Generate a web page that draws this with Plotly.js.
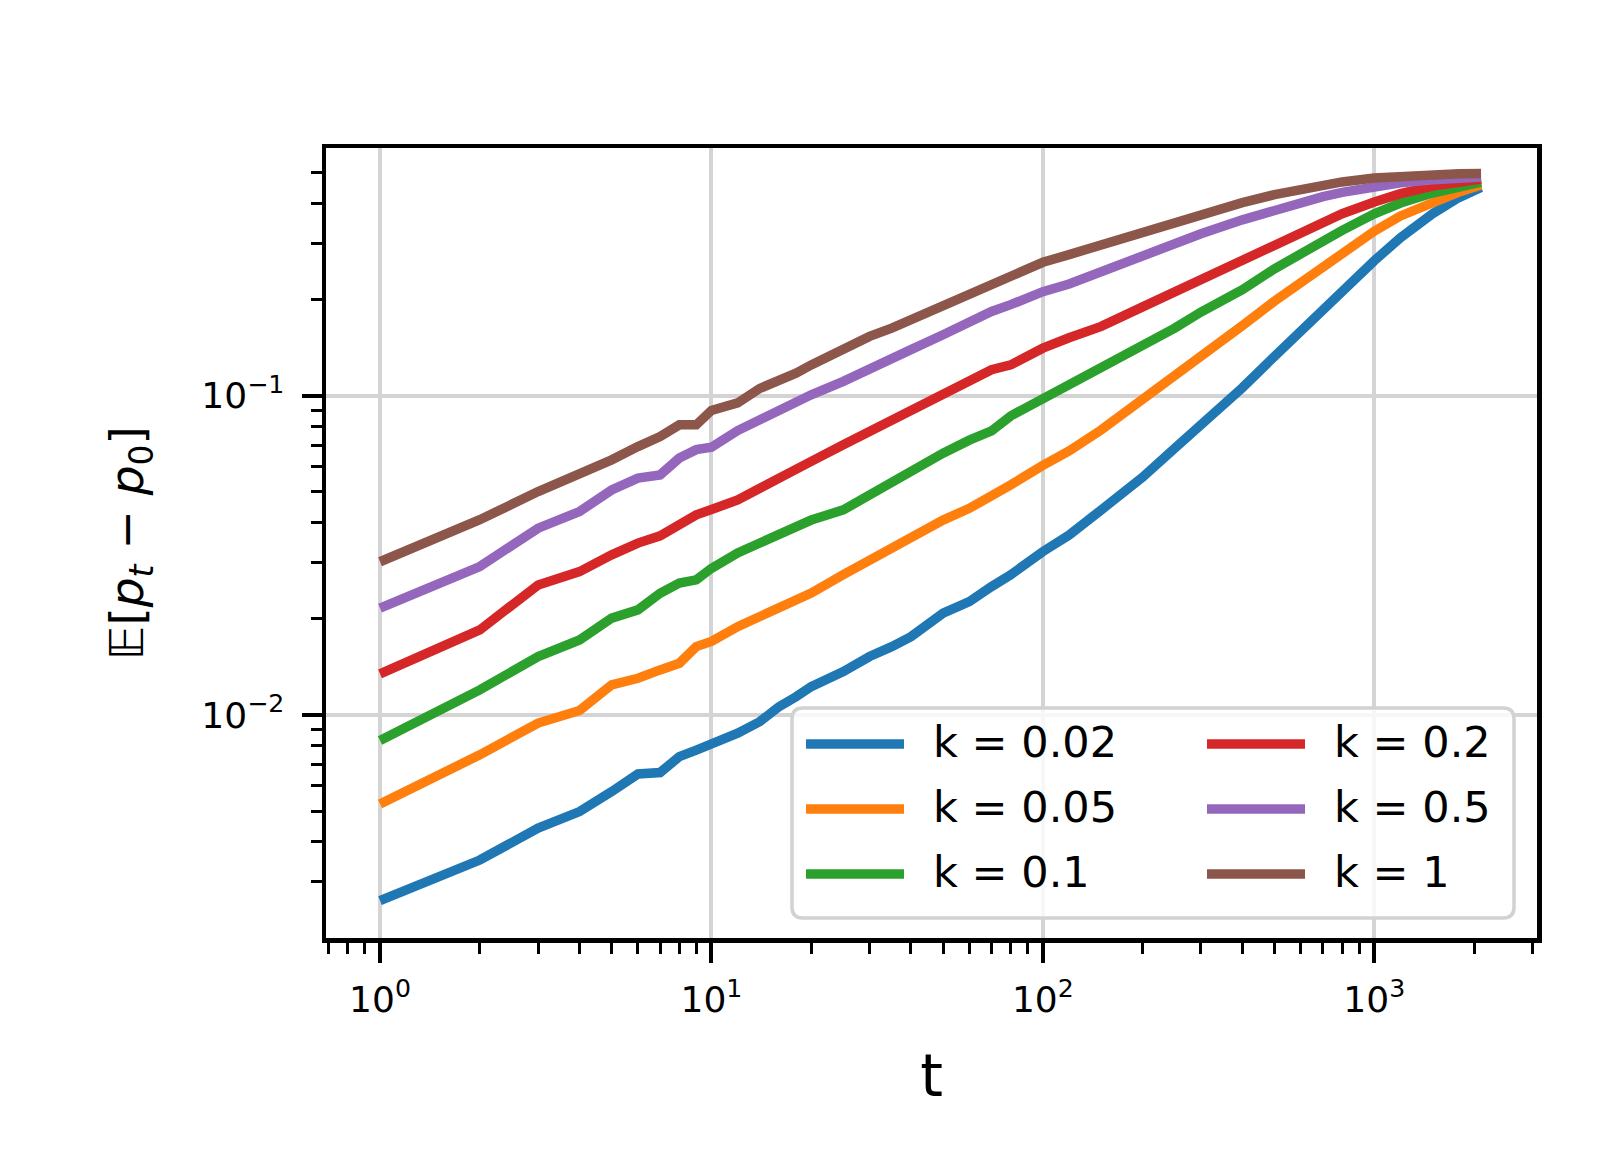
<!DOCTYPE html>
<html>
<head>
<meta charset="utf-8">
<script src="https://cdn.plot.ly/plotly-3.0.1.min.js"></script>
<style>html,body{margin:0;padding:0;background:#fff;}#chart{width:1610px;height:1150px;}</style>
</head>
<body>
<div id="chart"></div>
<script>
// ---- data ----
const t = [1,2,3,4,5,6,7,8,9,10,12,14,16,18,20,25,30,35,40,50,60,70,80,100,120,150,200,250,300,400,500,600,700,800,1000,1200,1500,1800,2100];

const k002 = [0.00262,0.00351,0.00442,0.00498,0.00575,0.00653,0.00660,0.00740,0.00776,0.00810,0.00877,0.00953,0.01062,0.0114,0.01227,0.01367,0.01524,0.01637,0.01759,0.02084,0.02265,0.02524,0.0275,0.0325,0.0366,0.0439,0.0556,0.0685,0.0810,0.1060,0.1330,0.1600,0.1860,0.2100,0.2650,0.3130,0.3720,0.4180,0.4500];
const k005 = [0.00526,0.00750,0.00943,0.01032,0.01242,0.01303,0.01384,0.01452,0.01637,0.0170,0.0189,0.0203,0.0219,0.0227,0.0241,0.0275,0.0306,0.0333,0.0362,0.0408,0.0444,0.0483,0.0526,0.0605,0.0672,0.0782,0.0970,0.1150,0.1330,0.1660,0.1980,0.2270,0.2540,0.2790,0.3280,0.3660,0.4050,0.4350,0.4580];
const k01  = [0.00831,0.01198,0.01524,0.01718,0.0201,0.02134,0.02407,0.02588,0.0265,0.0288,0.0322,0.0345,0.0366,0.0389,0.0408,0.0439,0.0490,0.0539,0.0579,0.0661,0.0726,0.0776,0.0865,0.0980,0.1080,0.1210,0.1420,0.1630,0.1830,0.2150,0.2500,0.2800,0.3060,0.3300,0.3720,0.4020,0.4320,0.4520,0.4670];
const k02  = [0.01344,0.01847,0.02555,0.02813,0.03174,0.03455,0.0364,0.03944,0.04236,0.0440,0.0472,0.0513,0.0555,0.0590,0.0623,0.0702,0.0773,0.0841,0.0904,0.1007,0.1110,0.1207,0.1250,0.1410,0.1520,0.1650,0.1900,0.2120,0.2320,0.2680,0.3000,0.3280,0.3520,0.3720,0.4050,0.4300,0.4540,0.4690,0.4780];
const k05  = [0.0216,0.02918,0.03848,0.04338,0.0507,0.0552,0.0565,0.0638,0.0678,0.0690,0.0778,0.0843,0.0893,0.0954,0.1007,0.1110,0.1220,0.1297,0.1395,0.1553,0.1710,0.1838,0.1930,0.2120,0.2240,0.2450,0.2750,0.3000,0.3220,0.3560,0.3830,0.4040,0.4210,0.4340,0.4530,0.4650,0.4750,0.4810,0.4850];
const k1   = [0.0302,0.0409,0.0501,0.0565,0.0630,0.0693,0.0745,0.0811,0.0811,0.0900,0.0950,0.1055,0.1110,0.1178,0.1250,0.1410,0.1535,0.1630,0.1730,0.1905,0.2074,0.2203,0.2380,0.2620,0.2770,0.2970,0.3250,0.3500,0.3710,0.4030,0.4270,0.4450,0.4580,0.4680,0.4810,0.4880,0.4930,0.4960,0.4970];

const seriesNames  = ["k = 0.02","k = 0.05","k = 0.1","k = 0.2","k = 0.5","k = 1"];
const seriesValues = [k002, k005, k01, k02, k05, k1];
const seriesColors = ["#1f77b4","#ff7f0e","#2ca02c","#d62728","#9467bd","#8c564b"];

const xTickVals = [1,10,100,1000];
const xTickText = ["10<sup>0</sup>","10<sup>1</sup>","10<sup>2</sup>","10<sup>3</sup>"];
const yTickVals = [0.01,0.1];
const yTickText = ["10<sup>\u22122</sup>","10<sup>\u22121</sup>"];
const xMinorVals = [0.7,0.8,0.9,2,3,4,5,6,7,8,9,20,30,40,50,60,70,80,90,200,300,400,500,600,700,800,900,2000,3000];
const yMinorVals = [0.003,0.004,0.005,0.006,0.007,0.008,0.009,0.02,0.03,0.04,0.05,0.06,0.07,0.08,0.09,0.2,0.3,0.4,0.5,0.6];

// ---- layout geometry (pixels) ----
const W = 1610, H = 1150;
const L = 326, R = 1537, T = 148, B = 938;
const px = X => (X - L) / (R - L);
const py = Y => (B - Y) / (B - T);
const FONT = "DejaVu Sans";

const traces = seriesValues.map((vals, i) => ({
  type: "scatter", mode: "lines", x: t, y: vals, name: seriesNames[i],
  line: {color: seriesColors[i], width: 9.5}, showlegend: false, hoverinfo: "skip"
}));

// ---- matplotlib-style legend box ----
const lx0 = 792, lx1 = 1514, ly0 = 708, ly1 = 918, rr = 11;
const boxPath =
  `M ${px(lx0+rr)},${py(ly0)} L ${px(lx1-rr)},${py(ly0)} Q ${px(lx1)},${py(ly0)} ${px(lx1)},${py(ly0+rr)} ` +
  `L ${px(lx1)},${py(ly1-rr)} Q ${px(lx1)},${py(ly1)} ${px(lx1-rr)},${py(ly1)} ` +
  `L ${px(lx0+rr)},${py(ly1)} Q ${px(lx0)},${py(ly1)} ${px(lx0)},${py(ly1-rr)} ` +
  `L ${px(lx0)},${py(ly0+rr)} Q ${px(lx0)},${py(ly0)} ${px(lx0+rr)},${py(ly0)} Z`;

const shapes = [{
  type: "path", xref: "paper", yref: "paper", path: boxPath,
  fillcolor: "rgba(255,255,255,0.8)", line: {color: "#d2d2d2", width: 3.5}, layer: "above"
}];
const annotations = [];
const colLineX = [[806, 904], [1207, 1305]];
const colTextX = [931, 1332];
const rowY = [744, 809, 874];
seriesNames.forEach((nm, i) => {
  const c = Math.floor(i / 3), r = i % 3;
  shapes.push({type: "line", xref: "paper", yref: "paper",
    x0: px(colLineX[c][0]), x1: px(colLineX[c][1]), y0: py(rowY[r]), y1: py(rowY[r]),
    line: {color: seriesColors[i], width: 9.5}, layer: "above"});
  annotations.push({xref: "paper", yref: "paper", x: px(colTextX[c]), y: py(rowY[r] - 2),
    xanchor: "left", yanchor: "middle", text: nm, showarrow: false,
    font: {family: FONT, size: 43, color: "#000"}});
});

const axisCommon = {
  type: "log", showline: true, linecolor: "#000", linewidth: 4.5, mirror: true,
  ticks: "outside", ticklen: 20, tickwidth: 4, tickcolor: "#000",
  showgrid: true, gridcolor: "#d4d4d4", gridwidth: 4, zeroline: false,
  tickmode: "array", tickfont: {family: FONT, size: 36, color: "#000"},
  automargin: false
};

const layout = {
  width: W, height: H,
  margin: {l: L, r: W - R, t: T, b: H - B, pad: 0},
  paper_bgcolor: "#fff", plot_bgcolor: "#fff",
  font: {family: FONT, color: "#000"},
  showlegend: false,
  xaxis: Object.assign({}, axisCommon, {
    range: [-0.163, 3.491], tickvals: xTickVals, ticktext: xTickText,
    ticklabelstandoff: 6,
    minor: {tickmode: "array", tickvals: xMinorVals, ticks: "outside", ticklen: 11, tickwidth: 3, tickcolor: "#000", showgrid: false},
    title: {text: "t", font: {family: FONT, size: 58, color: "#000"}, standoff: 38}
  }),
  yaxis: Object.assign({}, axisCommon, {
    range: [-2.699, -0.2235], tickvals: yTickVals, ticktext: yTickText,
    ticklabelstandoff: 10,
    minor: {tickmode: "array", tickvals: yMinorVals, ticks: "outside", ticklen: 11, tickwidth: 3, tickcolor: "#000", showgrid: false},
    title: {text: "\uD835\uDD3C[<i>p</i><sub><i>t</i></sub> \u2212 <i>p</i><sub>0</sub>]", font: {family: FONT, size: 47, color: "#000"}, standoff: 44}
  }),
  shapes: shapes,
  annotations: annotations
};

Plotly.newPlot("chart", traces, layout, {staticPlot: true, displayModeBar: false});
</script>
</body>
</html>
